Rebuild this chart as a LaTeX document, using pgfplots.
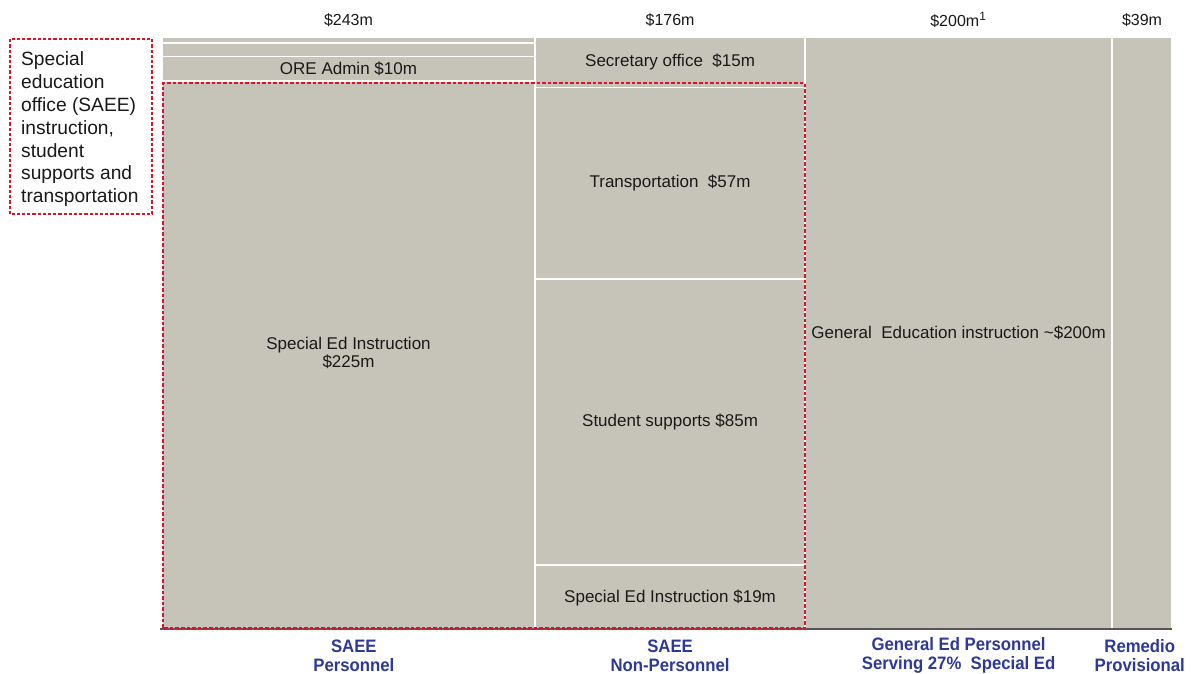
\documentclass[border=0pt]{standalone}
\usepackage{fontspec}
\setmainfont{Liberation Sans}
\newfontfamily\narrowfont[FakeStretch=0.93]{Liberation Sans}
\usepackage{pgfplots}
\pgfplotsset{compat=1.18}

\definecolor{segfill}{RGB}{198,196,184}
\definecolor{dashred}{RGB}{215,20,40}
\definecolor{lblblue}{RGB}{46,56,150}
\definecolor{basegray}{RGB}{85,85,85}
\definecolor{txt}{RGB}{25,25,25}

\tikzset{
  seg/.style={fill=segfill,draw=white,line width=0.8pt},
  inner/.style={font=\fontsize{8.5}{10}\selectfont,text=txt,align=center},
}

\begin{document}
\begin{tikzpicture}
\path[use as bounding box] (-81pt,-22.5pt) rectangle (516.5pt,314.5pt);
\begin{axis}[
  at={(0pt,0pt)},anchor=south west,
  scale only axis,width=505pt,height=296pt,
  xmin=0,xmax=658,ymin=0,ymax=100,
  axis lines=none,clip=false,
]
% x: column widths in $m (243, 176, 200, 39); y: share of column in %
% SAEE Personnel ($243m): 225 / 10 / 5.5 / 2.5
\addplot[seg] coordinates {(0,0) (243,0) (243,92.59) (0,92.59)} --cycle;
\addplot[seg] coordinates {(0,92.59) (243,92.59) (243,96.71) (0,96.71)} --cycle;
\addplot[seg] coordinates {(0,96.71) (243,96.71) (243,98.97) (0,98.97)} --cycle;
\addplot[seg] coordinates {(0,98.97) (243,98.97) (243,100) (0,100)} --cycle;
% SAEE Non-Personnel ($176m): 19 / 85 / 57 / 15
\addplot[seg] coordinates {(243,0) (419,0) (419,10.80) (243,10.80)} --cycle;
\addplot[seg] coordinates {(243,10.80) (419,10.80) (419,59.09) (243,59.09)} --cycle;
\addplot[seg] coordinates {(243,59.09) (419,59.09) (419,91.48) (243,91.48)} --cycle;
\addplot[seg] coordinates {(243,91.48) (419,91.48) (419,100) (243,100)} --cycle;
% General Ed ($200m) and Remedio ($39m)
\addplot[seg] coordinates {(419,0) (619,0) (619,100) (419,100)} --cycle;
\addplot[seg] coordinates {(619,0) (658,0) (658,100) (619,100)} --cycle;

\addplot[basegray,line width=1pt] coordinates {(-1.5,0) (658,0)};

\draw[dashred,dash pattern=on 1.8pt off 1pt,line width=0.8pt] (axis cs:0.6,0.2) rectangle (axis cs:419,92.2);
\draw[dashred,dash pattern=on 1.6pt off 1pt,line width=0.55pt] (axis cs:-99,70.1) rectangle (axis cs:-6.5,99.66);

\node[anchor=west,align=left,inner sep=0pt,text=txt,font=\fontsize{9.6}{11.4}\selectfont]
  at (axis cs:-92,84.4) {Special\\education\\office (SAEE)\\instruction,\\student\\supports and\\transportation};

\node[inner] at (axis cs:121.5,46.6) {Special Ed Instruction\\[-1pt]\$225m};
\node[inner] at (axis cs:121.5,94.7) {ORE Admin \$10m};
\node[inner] at (axis cs:331,95.8) {Secretary office\ \ \$15m};
\node[inner] at (axis cs:331,75.3) {Transportation\ \ \$57m};
\node[inner] at (axis cs:331,35.0) {Student supports \$85m};
\node[inner] at (axis cs:331,5.3) {Special Ed Instruction \$19m};
\node[inner] at (axis cs:519,50.0) {General\ \ Education instruction \textasciitilde\$200m};

\begin{scope}[every node/.style={font=\fontsize{8}{9}\selectfont,text=txt}]
\node at (axis cs:121.5,102.9) {\$243m};
\node at (axis cs:331,102.9) {\$176m};
\node at (axis cs:519,102.9) {\$200m\textsuperscript{1}};
\node at (axis cs:638.5,102.9) {\$39m};
\end{scope}

\begin{scope}[every node/.style={font=\narrowfont\bfseries\fontsize{9}{9.5}\selectfont,text=lblblue,align=center}]
\node at (axis cs:125,-4.5) {SAEE\\Personnel};
\node at (axis cs:331,-4.5) {SAEE\\Non-Personnel};
\node at (axis cs:519,-4.5) {General Ed Personnel\\Serving 27\%\ \ Special Ed};
\node at (axis cs:637,-4.5) {Remedio\\Provisional};
\end{scope}
\end{axis}
\end{tikzpicture}
\end{document}
